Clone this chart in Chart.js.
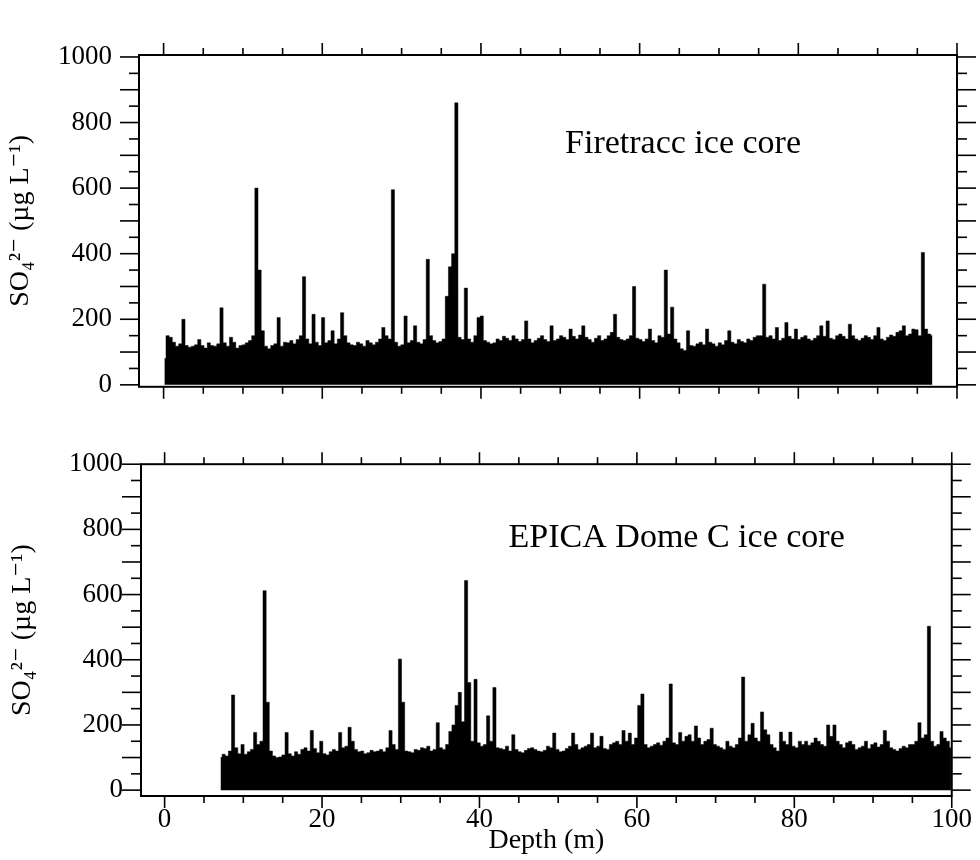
<!DOCTYPE html>
<html>
<head>
<meta charset="utf-8">
<script src="https://cdn.jsdelivr.net/npm/chart.js@4.4.1/dist/chart.umd.min.js"></script>
<style>
  html, body { margin: 0; padding: 0; background: #fff; }
  #wrap { position: relative; width: 980px; height: 860px; }
  canvas { position: absolute; left: 0; }
</style>
</head>
<body>
<div id="wrap">
  <canvas id="top" width="980" height="430" style="top:0"></canvas>
  <canvas id="bottom" width="980" height="430" style="top:430px"></canvas>
</div>
<script>
// depth of first sample (m), samples every 0.4 m
const firetraccStart = 0.1;
const epicaStart = 7.1;
const sampleStep = 0.4;

// SO4 2- (ug/L), Firetracc core, 0.1 - 96.9 m
const firetraccSO4 = [
  80, 150, 145, 130, 118, 125, 200, 120, 115, 118,
  122, 138, 120, 112, 128, 120, 118, 125, 235, 128,
  118, 145, 130, 112, 120, 122, 128, 135, 150, 600,
  350, 165, 118, 110, 120, 125, 205, 118, 130, 128,
  135, 125, 138, 150, 330, 140, 125, 215, 130, 120,
  205, 128, 135, 165, 125, 140, 220, 150, 128, 122,
  120, 130, 125, 118, 135, 128, 122, 130, 140, 175,
  150, 140, 595, 130, 118, 122, 210, 128, 135, 180,
  130, 125, 138, 383, 150, 135, 128, 132, 140, 270,
  360, 400, 860, 145, 138, 295, 140, 130, 150, 205,
  210, 135, 130, 125, 128, 140, 135, 148, 142, 135,
  150, 140, 132, 138, 195, 140, 128, 135, 142, 150,
  138, 132, 180, 135, 140, 150, 145, 138, 170, 148,
  140, 152, 180, 145, 138, 130, 142, 150, 135, 140,
  150, 160, 215, 145, 138, 135, 140, 150, 300, 142,
  138, 132, 140, 170, 135, 128, 150, 145, 350, 155,
  237, 140, 128, 110, 105, 165, 120, 118, 125, 130,
  122, 170, 130, 125, 118, 128, 122, 135, 165, 130,
  125, 138, 132, 128, 140, 135, 145, 150, 150, 307,
  145, 150, 140, 175, 135, 142, 190, 148, 140, 170,
  138, 145, 150, 140, 135, 142, 150, 180, 148, 195,
  142, 138, 150, 155, 148, 140, 185, 150, 140, 135,
  142, 150, 145, 138, 150, 175, 140, 135, 145, 152,
  148, 160, 165, 180, 150, 155, 170, 168, 150, 404,
  170, 155, 150
];

// SO4 2- (ug/L), EPICA Dome C core, 7.1 - 99.9 m
const epicaSO4 = [
  100, 110, 105, 120, 292, 130, 112, 140, 110, 118,
  125, 177, 140, 150, 612, 270, 120, 105, 100, 102,
  108, 177, 112, 105, 118, 110, 125, 130, 120, 183,
  128, 115, 150, 112, 108, 118, 125, 120, 177, 130,
  135, 193, 150, 125, 118, 120, 112, 115, 122, 118,
  120, 125, 118, 130, 183, 140, 125, 402, 270, 120,
  118, 115, 125, 122, 130, 128, 135, 120, 125, 207,
  130, 125, 140, 180, 200, 260, 300, 210, 643, 330,
  150, 340, 145, 135, 140, 228, 150, 315, 130, 128,
  125, 135, 120, 170, 125, 118, 115, 122, 128, 130,
  125, 120, 118, 122, 135, 130, 175, 125, 118, 120,
  128, 135, 175, 140, 125, 130, 135, 140, 175, 130,
  135, 165, 128, 125, 140, 145, 150, 140, 183, 150,
  175, 140, 160, 260, 295, 140, 130, 135, 140, 145,
  138, 150, 160, 326, 145, 140, 177, 150, 165, 170,
  150, 197, 160, 140, 150, 155, 190, 140, 135, 130,
  125, 150, 135, 130, 140, 160, 347, 150, 170, 205,
  160, 150, 240, 185, 170, 140, 130, 120, 178, 150,
  140, 178, 135, 130, 150, 140, 150, 138, 145, 160,
  150, 140, 135, 200, 165, 200, 150, 140, 130, 145,
  150, 140, 125, 130, 135, 150, 128, 140, 145, 132,
  140, 183, 150, 130, 125, 120, 128, 135, 130, 140,
  140, 150, 207, 160, 170, 503, 150, 135, 140, 180,
  160, 150, 130
];

const yTickLabels = [0, 200, 400, 600, 800, 1000];
const xTickLabels = [0, 20, 40, 60, 80, 100];
const yTitle = 'SO\u2084\u00B2\u207B (\u00B5g L\u207B\u00B9)';
const xTitle = 'Depth (m)';

Chart.defaults.font.family = '"Liberation Serif", "DejaVu Serif", serif';
Chart.defaults.color = '#000';

function line(ctx, x1, y1, x2, y2) {
  ctx.beginPath();
  ctx.moveTo(x1, y1);
  ctx.lineTo(x2, y2);
  ctx.stroke();
}

// box around the plot, ticks on all four sides, and the core name
const frameTicks = {
  id: 'frameTicks',
  afterDraw(chart, args, opts) {
    const ctx = chart.ctx, a = chart.chartArea;
    const xs = chart.scales.x, ys = chart.scales.y;
    ctx.save();
    ctx.strokeStyle = '#000';
    ctx.lineWidth = 2;
    ctx.strokeRect(a.left, a.top, a.right - a.left, a.bottom - a.top);
    ctx.lineWidth = 1.6;
    for (let v = 0; v <= 1000; v += 50) {
      const y = ys.getPixelForValue(v);
      const len = v % 100 === 0 ? 19 : 10;
      line(ctx, a.left - len, y, a.left, y);
      line(ctx, a.right, y, a.right + len, y);
    }
    for (let d = 0; d <= 100; d += 5) {
      const x = xs.getPixelForValue(d);
      const len = d % 20 === 0 ? 12 : 7;
      line(ctx, x, a.top - len, x, a.top);
      line(ctx, x, a.bottom, x, a.bottom + len);
    }
    ctx.fillStyle = '#000';
    ctx.font = '34px "Liberation Serif", serif';
    ctx.textAlign = 'left';
    ctx.textBaseline = 'alphabetic';
    ctx.fillText(opts.text, xs.getPixelForValue(opts.x), ys.getPixelForValue(opts.y));
    ctx.restore();
  }
};

function makeChart(id, values, start, cfg) {
  const pts = values.map((v, i) => ({ x: +(start + i * sampleStep).toFixed(1), y: v }));
  return new Chart(document.getElementById(id), {
    type: 'line',
    data: {
      datasets: [{
        data: pts,
        borderColor: '#000',
        backgroundColor: '#000',
        borderWidth: 0.5,
        fill: 'origin',
        stepped: 'middle',
        pointRadius: 0
      }]
    },
    options: {
      responsive: false,
      animation: false,
      devicePixelRatio: 1,
      layout: { padding: { top: cfg.top, right: 980 - cfg.right, bottom: cfg.padBottom, left: 0 } },
      plugins: {
        legend: { display: false },
        tooltip: { enabled: false },
        frameTicks: cfg.label
      },
      scales: {
        x: {
          type: 'linear',
          min: cfg.xMin,
          max: 100,
          display: cfg.showX,
          grid: { display: false, drawTicks: false },
          border: { display: false },
          afterBuildTicks: s => { s.ticks = xTickLabels.map(v => ({ value: v })); },
          afterFit: s => { s.height = cfg.xHeight; },
          ticks: {
            padding: 8,
            maxRotation: 0,
            autoSkip: false,
            font: { size: 27 },
            callback: v => String(v)
          },
          title: {
            display: true,
            text: xTitle,
            font: { size: 28 },
            padding: { top: 0, bottom: 3 }
          }
        },
        y: {
          type: 'linear',
          min: cfg.yMin,
          max: cfg.yMax,
          grid: { display: false, drawTicks: false },
          border: { display: false },
          afterBuildTicks: s => { s.ticks = yTickLabels.map(v => ({ value: v })); },
          afterFit: s => { s.width = cfg.left; },
          ticks: {
            padding: cfg.labelPad,
            font: { size: 27 },
            callback: v => String(v)
          },
          title: {
            display: true,
            text: yTitle,
            font: { size: 28 },
            padding: { top: cfg.titlePad, bottom: 0 }
          }
        }
      }
    },
    plugins: [frameTicks]
  });
}

makeChart('top', firetraccSO4, firetraccStart, {
  top: 55, right: 957, padBottom: 42, left: 139,
  xMin: -3.1, yMin: -6, yMax: 1006, showX: false, xHeight: 0,
  labelPad: 27, titlePad: 4,
  label: { text: 'Firetracc ice core', x: 50.6, y: 708 }
});

makeChart('bottom', epicaSO4, epicaStart, {
  top: 32, right: 957, padBottom: 0, left: 141,
  xMin: -3.0, yMin: -18, yMax: 1000, showX: true, xHeight: 64,
  labelPad: 18, titlePad: 6,
  label: { text: 'EPICA Dome C ice core', x: 43.7, y: 747 }
});
</script>
</body>
</html>
